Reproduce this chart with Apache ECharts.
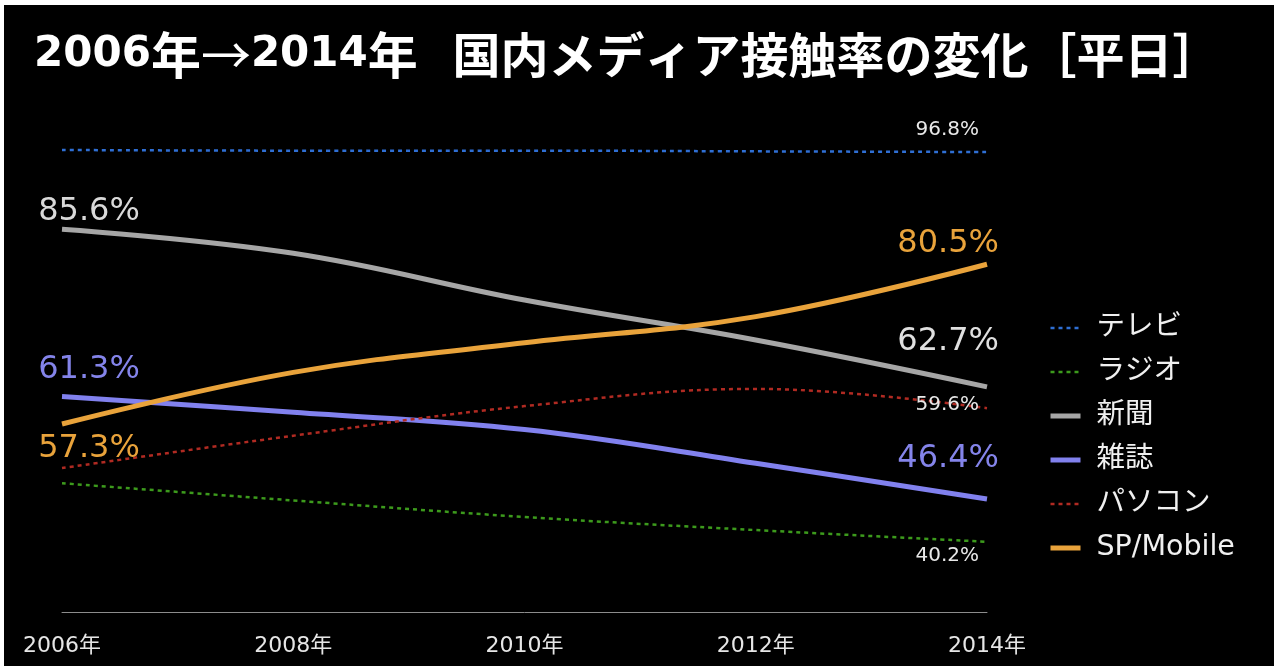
<!DOCTYPE html>
<html>
<head>
<meta charset="utf-8">
<script src="https://cdn.jsdelivr.net/npm/echarts@6/dist/echarts.min.js"></script>
<style>
html,body{margin:0;padding:0;background:#ffffff;width:1279px;height:666px;overflow:hidden;}
#chart{position:absolute;left:4px;top:5px;width:1270px;height:661px;background:#000000;}
</style>
</head>
<body>
<div id="chart"></div>
<script>
// ---- data ----
const categories = ['2006年', '2008年', '2010年', '2012年', '2014年'];
const seriesNames = ['テレビ', 'ラジオ', '新聞', '雑誌', 'パソコン', 'SP/Mobile'];
const tv = [97.1, 97.0, 97.0, 96.9, 96.8];
const radio = [48.7, 46.2, 43.8, 41.9, 40.2];
const newspaper = [85.6, 82.1, 75.3, 69.5, 62.7];
const magazine = [61.3, 59.0, 56.5, 51.6, 46.4];
const pc = [50.9, 55.6, 59.9, 62.4, 59.6];
const sp = [57.3, 64.8, 69.1, 72.9, 80.5];
const seriesValues = [tv, radio, newspaper, magazine, pc, sp];

// ---- styles ----
const LABEL_FONT = '"DejaVu Sans", "Noto Sans CJK JP", sans-serif';
const colors = ['#2f6fd4', '#3c9a1c', '#a6a6a6', '#8181ee', '#b02a22', '#e9a33b'];
const lineStyles = [
  {width: 2.5, type: [4, 4]},
  {width: 2.5, type: [4, 4]},
  {width: 5, type: 'solid'},
  {width: 5, type: 'solid'},
  {width: 2.5, type: [4, 4]},
  {width: 5, type: 'solid'}
];
// label spec per series: [first point, last point] (null = no label)
const labelSpecs = [
  [null, {dx: -8, dy: -22, align: 'right', size: 20, color: '#e8e8e8'}],
  [null, {dx: -8, dy: 14, align: 'right', size: 20, color: '#e8e8e8'}],
  [{dx: 27, dy: -17, align: 'center', size: 32, color: '#d9d9d9'}, {dx: 12, dy: -45, align: 'right', size: 32, color: '#e0e0e0'}],
  [{dx: 27, dy: -27, align: 'center', size: 32, color: '#8484ea'}, {dx: 12, dy: -40, align: 'right', size: 32, color: '#8484ea'}],
  [null, {dx: -8, dy: -3, align: 'right', size: 20, color: '#e8e8e8'}],
  [{dx: 27, dy: 25, align: 'center', size: 32, color: '#e9a33b'}, {dx: 12, dy: -21, align: 'right', size: 32, color: '#e9a33b'}]
];

function buildData(values, spec) {
  return values.map(function (v, i) {
    let s = null;
    if (i === 0) s = spec[0];
    if (i === values.length - 1) s = spec[1];
    if (!s) return v;
    return {
      value: v,
      label: {
        show: true,
        position: [s.dx, s.dy],
        align: s.align,
        verticalAlign: 'middle',
        fontSize: s.size,
        color: s.color,
        fontFamily: LABEL_FONT,
        formatter: function (p) { return p.value.toFixed(1) + '%'; }
      }
    };
  });
}

const series = seriesNames.map(function (name, k) {
  return {
    name: name,
    type: 'line',
    data: buildData(seriesValues[k], labelSpecs[k]),
    smooth: 0.4,
    symbol: 'circle',
    symbolSize: 0,
    showSymbol: true,
    clip: false,
    color: colors[k],
    lineStyle: Object.assign({color: colors[k]}, lineStyles[k]),
    itemStyle: {color: colors[k]},
    label: {show: false},
    emphasis: {disabled: true}
  };
});

const legendData = seriesNames.map(function (name, k) {
  return {name: name, lineStyle: {width: lineStyles[k].width, type: lineStyles[k].type, color: colors[k]}};
});

const CJK = '"Noto Sans CJK JP", sans-serif';
const chart = echarts.init(document.getElementById('chart'), null, {renderer: 'canvas'});
chart.setOption({
  animation: false,
  backgroundColor: '#000000',
  title: {
    text: '{d|2006}{y|年}{a|→}{d|2014}{y|年}{s| }{k|国内メディア接触率の変化［平日］}',
    left: 30,
    top: 22,
    padding: 0,
    textStyle: {
      color: '#ffffff',
      rich: {
        d: {color: '#ffffff', fontSize: 42, fontWeight: 'bold', lineHeight: 56, verticalAlign: 'middle',
            fontFamily: '"DejaVu Sans", "Noto Sans CJK JP", sans-serif'},
        y: {color: '#ffffff', fontSize: 50, fontWeight: 'bold', lineHeight: 56, verticalAlign: 'middle', fontFamily: CJK},
        a: {color: '#ffffff', fontSize: 50, fontWeight: 'normal', lineHeight: 56, verticalAlign: 'middle', fontFamily: CJK},
        s: {color: '#ffffff', fontSize: 100, lineHeight: 56, verticalAlign: 'middle', fontFamily: '"DejaVu Sans", sans-serif'},
        k: {color: '#ffffff', fontSize: 48, fontWeight: 'bold', lineHeight: 56, verticalAlign: 'middle', fontFamily: CJK}
      }
    }
  },
  legend: {
    orient: 'vertical',
    left: 1044,
    top: 308,
    padding: 0,
    itemWidth: 30,
    itemHeight: 14,
    itemGap: 14,
    data: legendData,
    itemStyle: {opacity: 0},
    textStyle: {
      color: '#f0f0f0',
      fontSize: 28.5,
      lineHeight: 30,
      fontFamily: LABEL_FONT,
      padding: [0, 0, 0, 11]
    }
  },
  grid: {left: 58, right: 287, top: 125, bottom: 54, containLabel: false},
  xAxis: {
    type: 'category',
    data: categories,
    boundaryGap: false,
    axisLine: {show: true, lineStyle: {color: '#8c8c8c', width: 1}},
    axisTick: {show: false},
    axisLabel: {color: '#e6e6e6', fontSize: 22, margin: 23, fontFamily: LABEL_FONT},
    splitLine: {show: false}
  },
  yAxis: {
    type: 'value',
    min: 30,
    max: 100,
    show: false,
    splitLine: {show: false}
  },
  series: series
});
</script>
</body>
</html>
